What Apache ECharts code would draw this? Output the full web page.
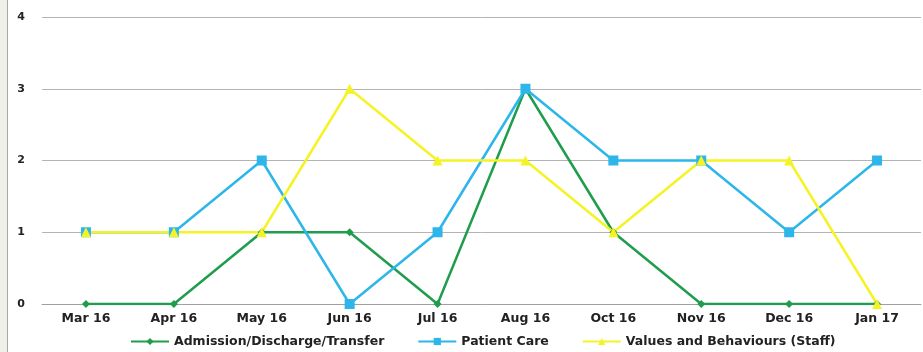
<!DOCTYPE html>
<html>
<head>
<meta charset="utf-8">
<script src="https://cdn.jsdelivr.net/npm/echarts@6/dist/echarts.min.js"></script>
<style>
  html, body { margin: 0; padding: 0; background: #ffffff; }
  #chart { width: 923px; height: 352px; }
</style>
</head>
<body>
<div id="chart"></div>
<script>
// Monthly counts by category
const months = ['Mar 16', 'Apr 16', 'May 16', 'Jun 16', 'Jul 16', 'Aug 16', 'Oct 16', 'Nov 16', 'Dec 16', 'Jan 17'];
const admissionDischargeTransfer = [0, 0, 1, 1, 0, 3, 1, 0, 0, 0];
const patientCare = [1, 1, 2, 0, 1, 3, 2, 2, 1, 2];
const valuesAndBehaviours = [1, 1, 1, 3, 2, 2, 1, 2, 2, 0];
const yTicks = [0, 1, 2, 3, 4];

const labelFont = '"DejaVu Sans", "Liberation Sans", sans-serif';

const chart = echarts.init(document.getElementById('chart'), null, { renderer: 'canvas' });

chart.setOption({
  animation: false,
  backgroundColor: '#ffffff',
  graphic: [
    { type: 'rect', left: 0, top: 0, shape: { width: 7, height: 352 }, style: { fill: '#eef1e7' }, silent: true },
    { type: 'line', shape: { x1: 7.5, y1: 0, x2: 7.5, y2: 352 }, style: { stroke: '#a8a8a8', lineWidth: 1 }, silent: true }
  ],
  grid: { left: 42, right: 2, top: 17, bottom: 48, containLabel: false },
  legend: {
    top: 330,
    left: 125,
    itemWidth: 38,
    itemHeight: 9,
    itemGap: 33,
    textStyle: { fontFamily: labelFont, fontSize: 12.5, fontWeight: 'bold', color: '#222222' },
    data: ['Admission/Discharge/Transfer', 'Patient Care', 'Values and Behaviours (Staff)']
  },
  xAxis: {
    type: 'category',
    data: months,
    boundaryGap: true,
    axisLine: { show: true, lineStyle: { color: '#a0a0a0', width: 1 } },
    axisTick: { show: false },
    axisLabel: { fontFamily: labelFont, fontSize: 12.5, fontWeight: 'bold', color: '#222222', margin: 8 }
  },
  yAxis: {
    type: 'value',
    min: yTicks[0],
    max: yTicks[yTicks.length - 1],
    interval: 1,
    axisLine: { show: false },
    axisTick: { show: false },
    splitLine: { lineStyle: { color: '#b4b4b4', width: 1 } },
    axisLabel: { fontFamily: labelFont, fontSize: 11, fontWeight: 'bold', color: '#222222', margin: 17 }
  },
  series: [
    {
      name: 'Admission/Discharge/Transfer',
      type: 'line',
      data: admissionDischargeTransfer,
      symbol: 'diamond',
      symbolSize: 8,
      showAllSymbol: true,
      itemStyle: { color: '#1f9d4c' },
      lineStyle: { color: '#1f9d4c', width: 2.5 }
    },
    {
      name: 'Patient Care',
      type: 'line',
      data: patientCare,
      symbol: 'rect',
      symbolSize: 10,
      showAllSymbol: true,
      itemStyle: { color: '#2db6ea' },
      lineStyle: { color: '#2db6ea', width: 2.5 }
    },
    {
      name: 'Values and Behaviours (Staff)',
      type: 'line',
      data: valuesAndBehaviours,
      symbol: 'triangle',
      symbolSize: 10,
      showAllSymbol: true,
      itemStyle: { color: '#f6f325' },
      lineStyle: { color: '#f6f325', width: 2.5 }
    }
  ]
});
</script>
</body>
</html>
